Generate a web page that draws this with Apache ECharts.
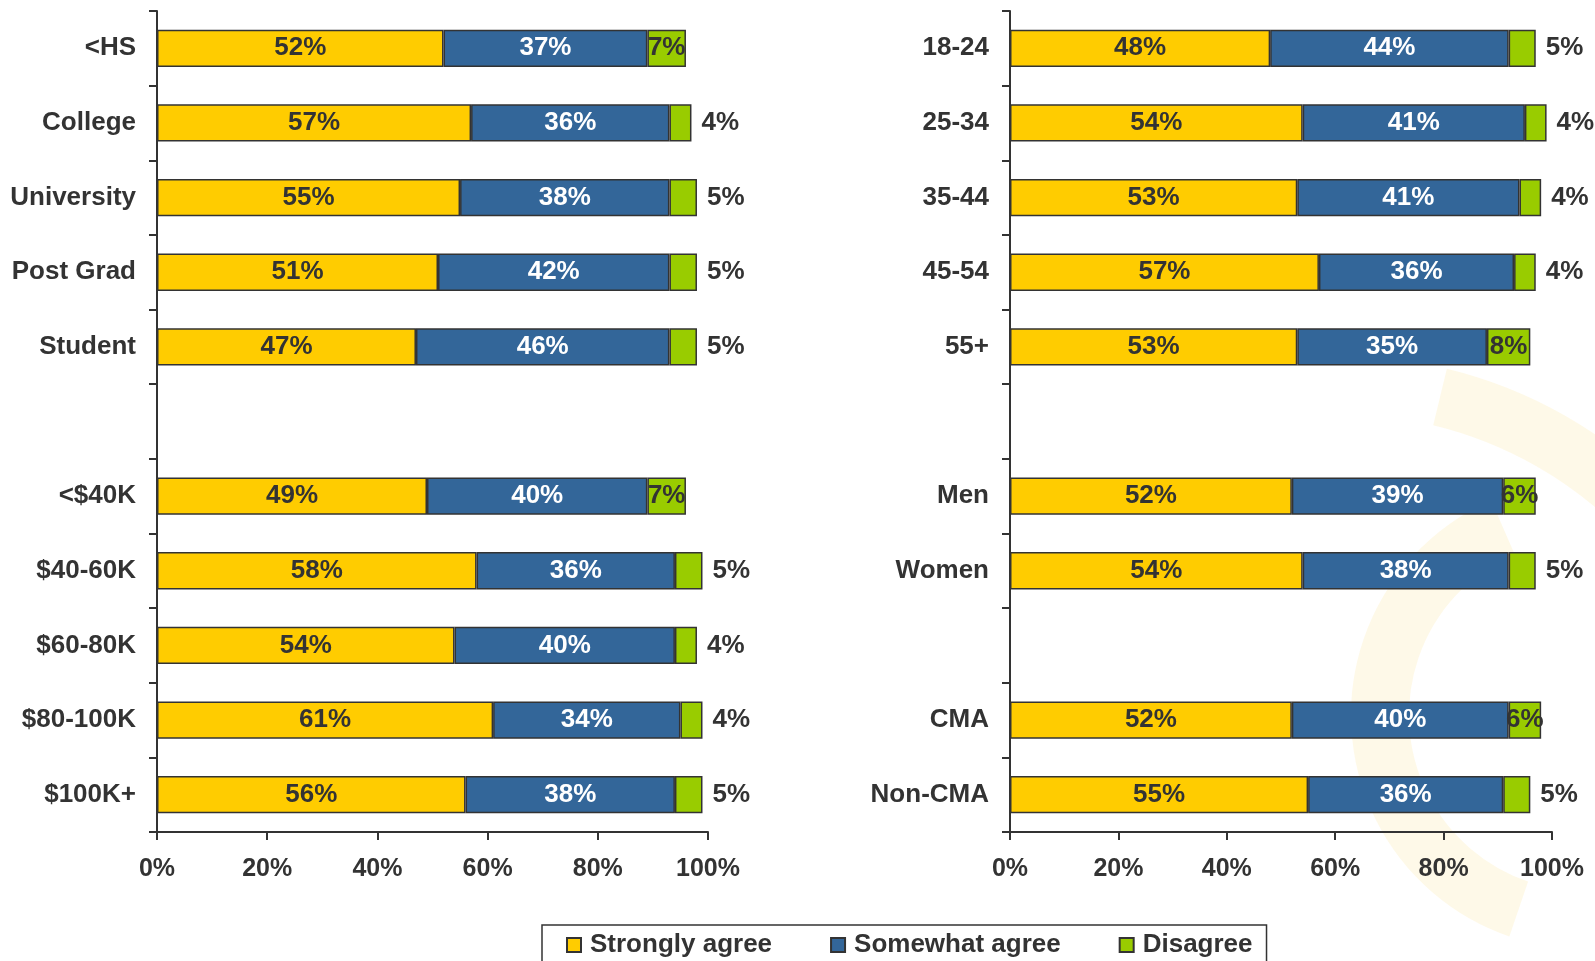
<!DOCTYPE html>
<html>
<head>
<meta charset="utf-8">
<script src="https://cdn.jsdelivr.net/npm/echarts@6/dist/echarts.min.js"></script>
<style>
  html, body { margin: 0; padding: 0; background: #fff; }
  #chart { width: 1595px; height: 961px; }
</style>
</head>
<body>
<div id="chart"></div>
<script>
// left panel: education + income (blank row separates the groups)
const leftCats = ['<HS', 'College', 'University', 'Post Grad', 'Student', '', '<$40K', '$40-60K', '$60-80K', '$80-100K', '$100K+']
const leftStrong = [52, 57, 55, 51, 47, null, 49, 58, 54, 61, 56]
const leftSomewhat = [37, 36, 38, 42, 46, null, 40, 36, 40, 34, 38]
const leftDisagree = [7, 4, 5, 5, 5, null, 7, 5, 4, 4, 5]

// right panel: age + gender + CMA
const rightCats = ['18-24', '25-34', '35-44', '45-54', '55+', '', 'Men', 'Women', ' ', 'CMA', 'Non-CMA']
const rightStrong = [48, 54, 53, 57, 53, null, 52, 54, null, 52, 55]
const rightSomewhat = [44, 41, 41, 36, 35, null, 39, 38, null, 40, 36]
const rightDisagree = [5, 4, 4, 4, 8, null, 6, 5, null, 6, 5]

const xTicks = [0, 20, 40, 60, 80, 100]

const FONT = '"Liberation Sans", Arial, sans-serif'
const DARK = '#333333'
const YELLOW = '#FFCC00'
const BLUE = '#336699'
const GREEN = '#99CC00'

const chart = echarts.init(document.getElementById('chart'))

const lbl = (color) => ({
  show: true,
  position: 'inside',
  color: color,
  fontFamily: FONT,
  fontWeight: 'bold',
  fontSize: 26,
  formatter: p => p.value == null ? '' : p.value + '%'
})

// small green segments get their label outside on the right
const greenData = arr => arr.map(v => {
  if (v == null) return null
  if (v >= 6) return v
  return { value: v, label: { position: 'right', distance: 10 } }
})

const makeSeries = (idx, strong, somewhat, disagree) => {
  const base = {
    type: 'bar',
    stack: 'tot' + idx,
    xAxisIndex: idx,
    yAxisIndex: idx,
    barWidth: '50%',
    z: 3
  }
  return [
    { ...base, name: 'Strongly agree', data: strong,
      itemStyle: { color: YELLOW, borderColor: DARK, borderWidth: 1.5 }, label: lbl(DARK) },
    { ...base, name: 'Somewhat agree', data: somewhat,
      itemStyle: { color: BLUE, borderColor: DARK, borderWidth: 1.5 }, label: lbl('#ffffff') },
    { ...base, name: 'Disagree', data: greenData(disagree),
      itemStyle: { color: GREEN, borderColor: DARK, borderWidth: 1.5 }, label: lbl(DARK) }
  ]
}

const xAxisCfg = (idx) => ({
  type: 'value',
  gridIndex: idx,
  min: xTicks[0],
  max: xTicks[xTicks.length - 1],
  interval: 20,
  axisLine: { show: true, lineStyle: { color: DARK, width: 2 } },
  axisTick: { show: true, length: 8, lineStyle: { color: DARK, width: 2 } },
  splitLine: { show: false },
  axisLabel: {
    formatter: '{value}%',
    color: DARK,
    fontFamily: FONT,
    fontWeight: 'bold',
    fontSize: 25,
    margin: 25
  }
})

const yAxisCfg = (idx, cats) => ({
  type: 'category',
  gridIndex: idx,
  data: cats,
  inverse: true,
  axisLine: { show: true, lineStyle: { color: DARK, width: 2 } },
  axisTick: { show: true, length: 8, alignWithLabel: false, lineStyle: { color: DARK, width: 2 } },
  axisLabel: {
    color: DARK,
    fontFamily: FONT,
    fontWeight: 'bold',
    fontSize: 26,
    margin: 21
  }
})

const WATERMARK = 'rgba(250, 210, 80, 0.13)'

const option = {
  backgroundColor: '#ffffff',
  animation: false,
  grid: [
    { left: 157, top: 11, width: 551, height: 821 },
    { left: 1010, top: 11, width: 542, height: 821 }
  ],
  xAxis: [xAxisCfg(0), xAxisCfg(1)],
  yAxis: [yAxisCfg(0, leftCats), yAxisCfg(1, rightCats)],
  legend: {
    left: 542,
    top: 925,
    padding: [7, 14, 20, 24],
    borderColor: DARK,
    borderWidth: 1.5,
    backgroundColor: '#ffffff',
    itemWidth: 14,
    itemHeight: 14,
    itemGap: 58,
    icon: 'rect',
    data: ['Strongly agree', 'Somewhat agree', 'Disagree'],
    textStyle: {
      color: DARK,
      fontFamily: FONT,
      fontWeight: 'bold',
      fontSize: 26,
      padding: [0, 0, 0, 4]
    }
  },
  // faint logo arcs in the lower right
  graphic: [
    {
      type: 'arc', z: -10, silent: true,
      shape: { cx: 1340, cy: 810, r: 425, startAngle: 4.95, endAngle: 6.1, clockwise: true },
      style: { fill: null, stroke: WATERMARK, lineWidth: 58 }
    },
    {
      type: 'arc', z: -10, silent: true,
      shape: { cx: 1585, cy: 715, r: 205, startAngle: 1.9, endAngle: 4.3, clockwise: true },
      style: { fill: null, stroke: WATERMARK, lineWidth: 58 }
    }
  ],
  series: [
    ...makeSeries(0, leftStrong, leftSomewhat, leftDisagree),
    ...makeSeries(1, rightStrong, rightSomewhat, rightDisagree)
  ]
}

chart.setOption(option)
</script>
</body>
</html>
